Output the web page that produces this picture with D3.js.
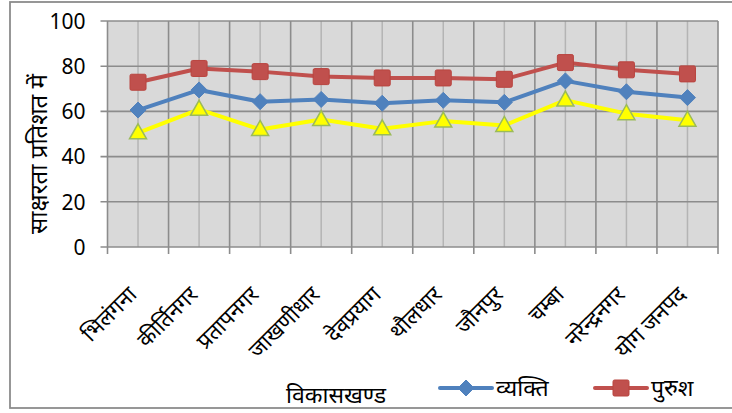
<!DOCTYPE html>
<html><head><meta charset="utf-8">
<script src="https://cdn.jsdelivr.net/npm/d3@7/dist/d3.min.js"></script>
<style>body{margin:0;background:#fff}svg{display:block}</style>
</head><body>
<svg id="c" width="732" height="413"></svg>
<script>
const categories = ["भिलंगना","कीर्तिनगर","प्रतापनगर","जाखणीधार","देवप्रयाग","थौलधार","जौनपुर","चम्बा","नरेन्द्रनगर","योग जनपद"];
const vyakti = [60.6, 69.5, 64.3, 65.3, 63.6, 64.9, 64.0, 73.5, 68.7, 66.1];
const purush = [72.9, 79.0, 77.6, 75.4, 74.8, 74.8, 74.2, 81.6, 78.4, 76.6];
const mahila = [50.5, 60.9, 52.0, 56.4, 52.3, 55.7, 53.8, 65.0, 59.0, 56.1];
const yTicks = [0, 20, 40, 60, 80, 100];
const yTitle = "साक्षरता प्रतिशत में";
const xTitle = "विकासखण्ड";
const legendNames = ["व्यक्ति", "पुरुश"];

const FONT = "'Noto Sans', 'Noto Sans Devanagari', sans-serif";
const svg = d3.select("#c");
const L = 107.5, R = 718, T = 21, B = 247;

// outer border
svg.append("rect").attr("x", 10).attr("y", 2).attr("width", 740).attr("height", 406)
  .attr("fill", "#fff").attr("stroke", "#8c8c8c").attr("stroke-width", 1.8);

const x = d3.scaleBand().domain(categories).range([L, R]);
const y = d3.scaleLinear().domain([0, 100]).range([B, T]);

// plot bg
svg.append("rect").attr("x", L).attr("y", T).attr("width", R - L).attr("height", B - T).attr("fill", "#d9d9d9");

// minor vertical grid (category centers)
svg.append("g").selectAll("line").data(categories).join("line")
  .attr("x1", d => x(d) + x.bandwidth() / 2).attr("x2", d => x(d) + x.bandwidth() / 2)
  .attr("y1", T).attr("y2", B).attr("stroke", "#b4b4b4").attr("stroke-width", 1.5);

// major vertical grid (category boundaries)
const bounds = categories.map(d => x(d)).concat([R]);
svg.append("g").selectAll("line").data(bounds).join("line")
  .attr("x1", d => d).attr("x2", d => d).attr("y1", T).attr("y2", B + 7)
  .attr("stroke", "#8c8c8c").attr("stroke-width", 1.6);

// horizontal grid
svg.append("g").selectAll("line").data(yTicks).join("line")
  .attr("x1", L - 7).attr("x2", R).attr("y1", d => y(d)).attr("y2", d => y(d))
  .attr("stroke", "#8c8c8c").attr("stroke-width", 1.6);

// y axis labels
const yAxis = d3.axisLeft(y).tickValues(yTicks).tickSize(0).tickPadding(0);
const ya = svg.append("g").attr("transform", `translate(${L - 22},0)`).call(yAxis);
ya.select(".domain").remove();
ya.selectAll("text").attr("font-family", FONT).attr("font-size", 21).attr("fill", "#000").attr("dy", "0.35em");

// x labels
const xa = svg.append("g").attr("transform", `translate(0,${B})`).call(d3.axisBottom(x).tickSize(0).tickFormat(""));
xa.select(".domain").remove();
svg.append("g").selectAll("text").data(categories).join("text")
  .attr("transform", d => `translate(${x(d) + x.bandwidth() / 2},${B + 49}) rotate(-45)`)
  .attr("text-anchor", "end").attr("font-family", FONT).attr("font-size", 22).attr("fill", "#000")
  .text(d => d);

// series
const series = [
  {name: legendNames[0], values: vyakti, color: "#4f81bd", marker: "diamond"},
  {name: legendNames[1], values: purush, color: "#c0504d", marker: "square"},
  {name: "महिला", values: mahila, color: "#ffff00", marker: "triangle"}
];
const line = d3.line().x((v, i) => x(categories[i]) + x.bandwidth() / 2).y(v => y(v));

function drawMarker(g, type, cx, cy, color) {
  if (type === "diamond") {
    g.append("path").attr("d", `M${cx},${cy-8}L${cx+8},${cy}L${cx},${cy+8}L${cx-8},${cy}Z`).attr("fill", color).attr("stroke", color).attr("stroke-width", 1);
  } else if (type === "square") {
    g.append("rect").attr("x", cx - 8).attr("y", cy - 8).attr("width", 16).attr("height", 16).attr("rx", 1.5).attr("fill", color).attr("stroke", "#b9443f").attr("stroke-width", 1);
  } else {
    g.append("path").attr("d", `M${cx},${cy-9}L${cx+8.5},${cy+6}L${cx-8.5},${cy+6}Z`).attr("fill", color).attr("stroke", "#9bbb59").attr("stroke-width", 1.5);
  }
}

series.forEach(s => {
  const g = svg.append("g");
  g.append("path").attr("d", line(s.values)).attr("fill", "none").attr("stroke", s.color).attr("stroke-width", 4).attr("stroke-linejoin", "round");
  s.values.forEach((v, i) => drawMarker(g, s.marker, x(categories[i]) + x.bandwidth() / 2, y(v), s.color));
});

// titles
svg.append("text").attr("transform", `translate(47,154) rotate(-90)`)
  .attr("text-anchor", "middle").attr("font-family", FONT).attr("font-size", 24).attr("fill", "#000").text(yTitle);
svg.append("text").attr("x", 336).attr("y", 403).attr("text-anchor", "middle")
  .attr("font-family", FONT).attr("font-size", 23).attr("fill", "#000").text(xTitle);

// legend
const leg = [{x: 440, s: series[0]}, {x: 595, s: series[1]}];
leg.forEach(l => {
  const g = svg.append("g");
  g.append("line").attr("x1", l.x).attr("x2", l.x + 52).attr("y1", 388).attr("y2", 388).attr("stroke", l.s.color).attr("stroke-width", 4).attr("stroke-linecap", "round");
  drawMarker(g, l.s.marker, l.x + 26, 388, l.s.color);
  g.append("text").attr("x", l.x + 56).attr("y", 396).attr("font-family", FONT).attr("font-size", 23).attr("fill", "#000").text(l.s.name);
});
</script>
</body></html>
